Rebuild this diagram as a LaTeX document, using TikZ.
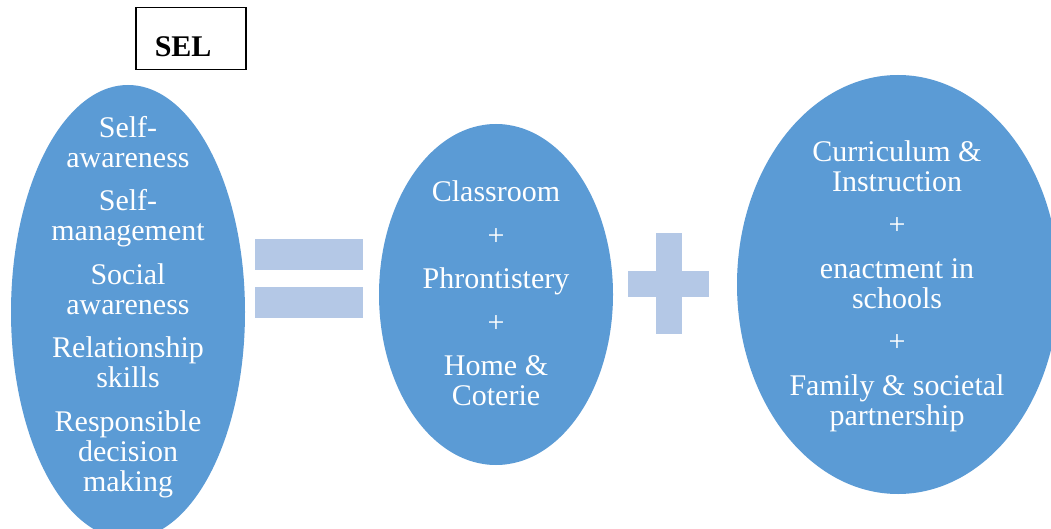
\documentclass[tikz,border=0pt]{standalone}
\usepackage{fontspec}
\setmainfont{Liberation Serif}
\usetikzlibrary{shapes.geometric}
\definecolor{oval}{HTML}{5B9BD5}
\definecolor{sign}{HTML}{B4C8E6}
\begin{document}
\begin{tikzpicture}[x=1pt,y=-1pt,
  oval/.style={ellipse, fill=oval, draw=none, inner sep=0pt},
  ovaltext/.style={text=white, align=center, inner sep=0pt,
    font=\fontsize{30}{30}\selectfont},
  signbar/.style={fill=sign, draw=none},
  titlebox/.style={draw=black, line width=1.5pt, fill=white, inner xsep=19pt,
    inner ysep=0pt, text width=72pt, align=left, text height=49pt, text depth=13pt,
    font=\fontsize{30}{32}\selectfont\bfseries}]
  \useasboundingbox (0,0) rectangle (1051,529);
  \fill[white] (0,0) rectangle (1051,529);
  \clip (0,0) rectangle (1051,529);

  % title
  \node[titlebox, anchor=north west] (sel) at (135,7) {SEL};

  % the three ovals
  \node[oval, minimum width=234pt, minimum height=454pt] (competences) at (128,312) {};
  \node[oval, minimum width=234pt, minimum height=341pt] (settings) at (496,294.5) {};
  \node[oval, minimum width=322pt, minimum height=419pt] (policy) at (898,284.5) {};

  % their texts
  \node[ovaltext] (competencestext) at (128,307)
    {Self-\\awareness\\[13.5pt]Self-\\management\\[13.5pt]Social\\awareness\\[13.5pt]Relationship\\skills\\[13.5pt]Responsible\\decision\\making};
  \node[ovaltext] (settingstext) at (496,293.4)
    {Classroom\\[13.5pt]+\\[13.5pt]Phrontistery\\[13.5pt]+\\[13.5pt]Home \&\\Coterie};
  \node[ovaltext] (policytext) at (897,286)
    {Curriculum \&\\Instruction\\[13.5pt]+\\[13.5pt]enactment in\\schools\\[13.5pt]+\\[13.5pt]Family \& societal\\partnership};

  % equals sign
  \fill[signbar] (255,239) rectangle (363,270);
  \fill[signbar] (255,287) rectangle (363,318);

  % plus sign
  \fill[signbar] (656,233) rectangle (682,334);
  \fill[signbar] (628,271) rectangle (709,297);
\end{tikzpicture}
\end{document}
